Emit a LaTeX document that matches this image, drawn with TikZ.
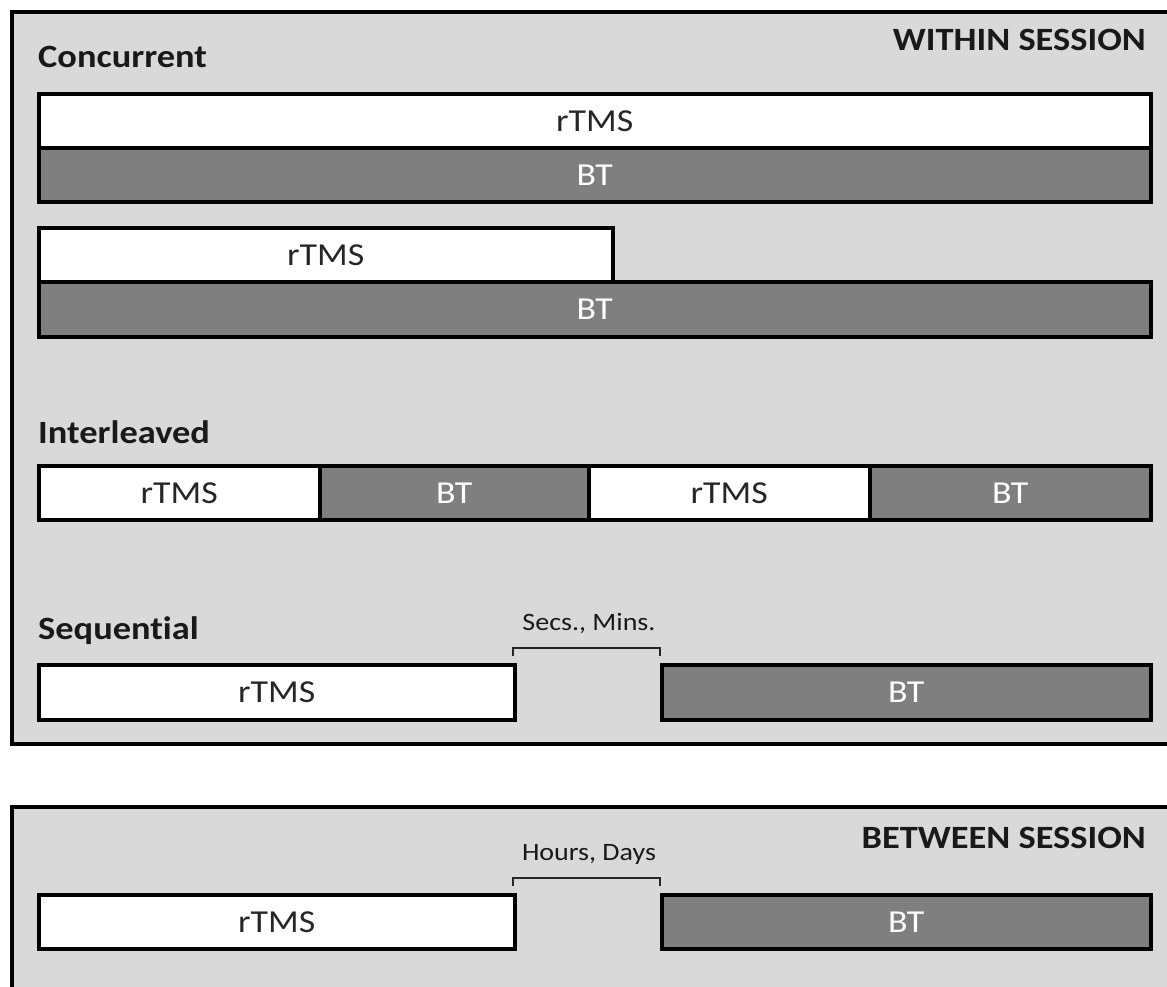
\documentclass[tikz,border=0pt]{standalone}
\usepackage{fontspec}
\setmainfont{Carlito}[FakeStretch=1.12, Ligatures=NoCommon]
\definecolor{panelgray}{HTML}{D9D9D9}
\definecolor{bargray}{HTML}{7F7F7F}
\tikzset{
  panel/.style={draw=black, fill=panelgray, line width=4pt},
  bar/.style={draw=black, line width=3.5pt, rectangle, inner sep=0pt, anchor=north west,
    font=\fontsize{32}{38}\selectfont},
  rtmsbar/.style={bar, fill=white, text=black!85},
  btbar/.style={bar, fill=bargray, text=white},
  heading/.style={font=\bfseries\fontsize{32.5}{38}\selectfont, text=black!90, inner sep=0pt},
  gaplabel/.style={font=\fontsize{25}{30}\selectfont, text=black!90, inner sep=0pt},
  bracket/.style={draw=black!85, line width=1.5pt},
}
\begin{document}
\begin{tikzpicture}[x=1pt,y=-1pt]
\useasboundingbox (0,0) rectangle (1167,986);
\clip (0,0) rectangle (1167,986);
\fill[white] (0,0) rectangle (1167,986);
% panels
\draw[panel] (12,12) rectangle (1190,744);
\draw[panel] (12,807) rectangle (1190,1010);
% headings
\node[heading, anchor=west] (hconc) at (38,57) {Concurrent};
\node[heading, anchor=east] (hwithin) at (1146,40) {WITHIN SESSION};
\node[heading, anchor=west] (hinter) at (38,432) {Interleaved};
\node[heading, anchor=west] (hseq) at (38,631) {Sequential};
\node[heading, anchor=east] (hbetween) at (1146,838) {BETWEEN SESSION};
% concurrent 1
\node[rtmsbar, minimum width=1112pt, minimum height=54pt] (c1r) at (37,92) {rTMS};
\node[btbar, minimum width=1112pt, minimum height=54pt] (c1b) at (37,146) {BT};
% concurrent 2
\node[rtmsbar, minimum width=574pt, minimum height=54pt] (c2r) at (37,226) {rTMS};
\node[btbar, minimum width=1112pt, minimum height=55pt] (c2b) at (37,280) {BT};
% interleaved
\node[rtmsbar, minimum width=281pt, minimum height=54pt] (i1) at (37,464) {rTMS};
\node[btbar, minimum width=269pt, minimum height=54pt] (i2) at (318,464) {BT};
\node[rtmsbar, minimum width=281pt, minimum height=54pt] (i3) at (587,464) {rTMS};
\node[btbar, minimum width=281pt, minimum height=54pt] (i4) at (868,464) {BT};
% sequential
\node[rtmsbar, minimum width=476pt, minimum height=55pt] (s1) at (37,663) {rTMS};
\node[btbar, minimum width=489pt, minimum height=55pt] (s2) at (660,663) {BT};
\coordinate (sbl) at (513,648);
\coordinate (sbr) at (660,648);
\draw[bracket] ([yshift=-8pt]sbl) -- (sbl) -- (sbr) -- ([yshift=-8pt]sbr);
\node[gaplabel] (sgap) at (589,623) {Secs., Mins.};
% between
\node[rtmsbar, minimum width=476pt, minimum height=54pt] (b1) at (37,893) {rTMS};
\node[btbar, minimum width=489pt, minimum height=54pt] (b2) at (660,893) {BT};
\coordinate (bbl) at (513,878);
\coordinate (bbr) at (660,878);
\draw[bracket] ([yshift=-8pt]bbl) -- (bbl) -- (bbr) -- ([yshift=-8pt]bbr);
\node[gaplabel] (bgap) at (589,854) {Hours, Days};
\end{tikzpicture}
\end{document}
